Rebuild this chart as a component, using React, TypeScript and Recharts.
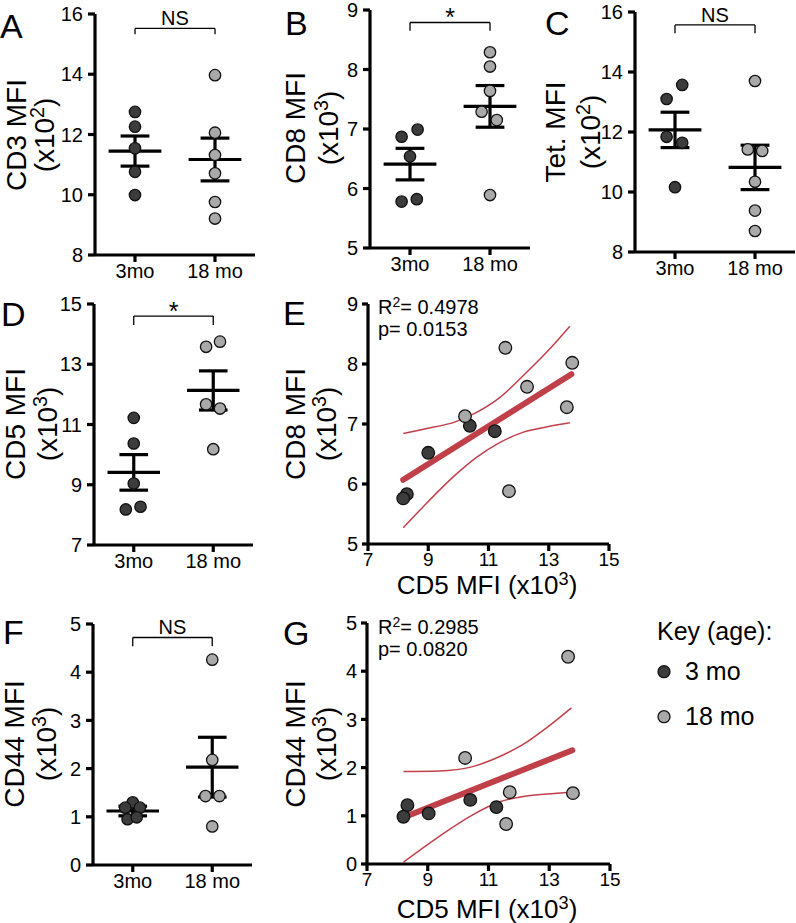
import React from 'react';
import { ScatterChart, ComposedChart, Scatter, Line, XAxis, YAxis, ReferenceLine } from 'recharts';

const FONT = '"Liberation Sans", Arial, Helvetica, sans-serif';
const DARK = '#3c3c3c';
const LIGHT = '#a9a9a9';
const RED = '#c0404a';

// group axis: 3mo at 1, 18 mo at 3
const groups = ['3mo', '18 mo'];
const groupPos = [1, 3];

// A - CD3 MFI (x10^2)
const cd3Young = [12.75, 12.26, 11.54, 10.76, 9.99];
const cd3YoungX = [1, 1, 1, 1, 1];
const cd3Old = [13.97, 12.06, 11.32, 10.71, 9.76, 9.21];
const cd3OldX = [3, 3, 3, 3, 3, 3];
const cd3Mean = [11.45, 11.17];
const cd3Sem = [0.5, 0.71];

// B - CD8 MFI (x10^3)
const cd8Young = [6.87, 6.99, 6.54, 5.78, 5.82];
const cd8YoungX = [0.79, 1.19, 1.0, 0.79, 1.17];
const cd8Old = [8.29, 8.05, 7.64, 7.29, 7.15, 5.89];
const cd8OldX = [3, 3, 3, 2.79, 3.17, 3];
const cd8Mean = [6.41, 7.38];
const cd8Sem = [0.265, 0.35];

// C - Tet. MFI (x10^2)
const tetYoung = [13.57, 13.1, 11.84, 11.64, 10.16];
const tetYoungX = [1.18, 0.79, 0.79, 1.18, 1.0];
const tetOld = [13.7, 11.42, 11.37, 10.34, 9.38, 8.7];
const tetOldX = [3, 2.82, 3.18, 3, 3, 3];
const tetMean = [12.07, 10.82];
const tetSem = [0.59, 0.74];

// D - CD5 MFI (x10^3)
const cd5Young = [11.22, 10.37, 9.04, 8.18, 8.27];
const cd5YoungX = [1, 1, 1, 0.8, 1.17];
const cd5Old = [13.58, 13.75, 11.67, 11.53, 10.18];
const cd5OldX = [2.82, 3.17, 2.82, 3.17, 3];
const cd5Mean = [9.41, 12.13];
const cd5Sem = [0.59, 0.65];

// F - CD44 MFI (x10^3)
const cd44Young = [1.3, 1.19, 1.19, 0.95, 0.99];
const cd44YoungX = [1.0, 0.81, 1.18, 0.87, 1.1];
const cd44Old = [4.26, 2.18, 1.43, 1.43, 0.8];
const cd44OldX = [3, 3, 2.83, 3.18, 3];
const cd44Mean = [1.12, 2.03];
const cd44Sem = [0.1, 0.62];

// E - CD5 vs CD8 correlation
const eCd5Young = [10.38, 11.21, 9.0, 8.29, 8.17];
const eCd8Young = [6.97, 6.88, 6.52, 5.83, 5.76];
const eCd5Old = [11.56, 13.78, 12.28, 13.6, 10.22, 11.68];
const eCd8Old = [8.27, 8.02, 7.62, 7.28, 7.13, 5.88];
const eFitX = [8.17, 13.75];
const eFitY = [6.07, 7.83];
const eBandX = [8.17, 8.81, 9.92, 10.59, 11.37, 12.14, 12.92, 13.7];
const eBandUpper = [6.84, 6.91, 7.04, 7.19, 7.44, 7.8, 8.19, 8.63];
const eBandLower = [5.27, 5.61, 6.16, 6.44, 6.69, 6.86, 6.95, 7.02];

// G - CD5 vs CD44 correlation
const gCd5Young = [8.33, 8.2, 9.03, 10.4, 11.26];
const gCd44Young = [1.22, 0.98, 1.05, 1.33, 1.18];
const gCd5Old = [13.62, 10.23, 11.7, 13.78, 11.58];
const gCd44Old = [4.3, 2.2, 1.49, 1.47, 0.83];
const gFitX = [8.26, 13.76];
const gFitY = [0.98, 2.36];
const gBandX = [8.2, 9.37, 10.48, 11.37, 12.14, 12.92, 13.73];
const gBandUpper = [1.92, 1.93, 2.02, 2.23, 2.48, 2.83, 3.24];
const gBandLower = [0.04, 0.57, 1.02, 1.29, 1.4, 1.45, 1.49];

const cd5Ticks = [7, 9, 11, 13, 15];

const toPts = (xs: number[], ys: number[]) => ys.map((y, i) => ({ x: xs[i], y }));

const dot = (fill: string, r: number) => (p: any) => (
  <circle cx={p.cx} cy={p.cy} r={r} fill={fill} stroke="#111" strokeWidth={1.3} />
);

const axisStyle = { stroke: '#000', strokeWidth: 3.2 };
const blk = { stroke: '#000', strokeWidth: 3.2 };
const thin = { stroke: '#000', strokeWidth: 1.3 };

type GroupProps = {
  box: number[];
  domain: number[];
  ticks: number[];
  young: number[];
  youngX: number[];
  old: number[];
  oldX: number[];
  mean: number[];
  sem: number[];
  bracket: number[];
  sig: string;
};

function GroupPanel({ box, domain, ticks, young, youngX, old, oldX, mean, sem, bracket, sig }: GroupProps) {
  const [x0, y0, x1, y1] = box;
  const padL = 70, padT = 40, padR = 8, padB = 40;
  const star = sig === '*';
  return (
    <div style={{ position: 'absolute', left: x0 - padL, top: y0 - padT }}>
      <ScatterChart width={x1 - x0 + padL + padR} height={y1 - y0 + padT + padB}
        margin={{ top: padT, right: padR, bottom: 0, left: 0 }}>
        <XAxis type="number" dataKey="x" domain={[0, 4]} ticks={groupPos} interval={0}
          tickFormatter={(v: number) => groups[groupPos.indexOf(v)]} height={padB}
          tickSize={7} tickMargin={2} axisLine={axisStyle} tickLine={axisStyle}
          fontSize={20} fontFamily={FONT}
          tick={{ fill: '#000', fontSize: 20, fontFamily: FONT }} />
        <YAxis type="number" dataKey="y" domain={domain} ticks={ticks} interval={0} width={padL}
          tickSize={7} tickMargin={5} axisLine={axisStyle} tickLine={axisStyle}
          fontSize={20} fontFamily={FONT}
          tick={{ fill: '#000', fontSize: 20, fontFamily: FONT }} />
        <Scatter data={toPts(youngX, young)} shape={dot(DARK, 5.7)} isAnimationActive={false} />
        <Scatter data={toPts(oldX, old)} shape={dot(LIGHT, 5.7)} isAnimationActive={false} />
        {groupPos.map((gx, i) => [
          <ReferenceLine key={'m' + i} segment={[{ x: gx - 0.66, y: mean[i] }, { x: gx + 0.66, y: mean[i] }]} {...blk} ifOverflow="visible" />,
          <ReferenceLine key={'v' + i} segment={[{ x: gx, y: mean[i] - sem[i] }, { x: gx, y: mean[i] + sem[i] }]} {...blk} ifOverflow="visible" />,
          <ReferenceLine key={'t' + i} segment={[{ x: gx - 0.36, y: mean[i] + sem[i] }, { x: gx + 0.36, y: mean[i] + sem[i] }]} {...blk} ifOverflow="visible" />,
          <ReferenceLine key={'b' + i} segment={[{ x: gx - 0.36, y: mean[i] - sem[i] }, { x: gx + 0.36, y: mean[i] - sem[i] }]} {...blk} ifOverflow="visible" />,
        ])}
        <ReferenceLine segment={[{ x: 1, y: bracket[1] }, { x: 1, y: bracket[0] }]} {...thin} ifOverflow="visible" />
        <ReferenceLine segment={[{ x: 3, y: bracket[1] }, { x: 3, y: bracket[0] }]} {...thin} ifOverflow="visible" />
        <ReferenceLine segment={[{ x: 1, y: bracket[0] }, { x: 3, y: bracket[0] }]} {...thin} ifOverflow="visible"
          label={{ value: sig, position: 'top', offset: star ? -4 : 3, fill: '#000', fontSize: star ? 25 : 20, fontFamily: FONT }} />
      </ScatterChart>
    </div>
  );
}

type CorrProps = {
  box: number[];
  yDomain: number[];
  yTicks: number[];
  youngX: number[];
  youngY: number[];
  oldX: number[];
  oldY: number[];
  fitX: number[];
  fitY: number[];
  bandX: number[];
  upper: number[];
  lower: number[];
};

function CorrPanel({ box, yDomain, yTicks, youngX, youngY, oldX, oldY, fitX, fitY, bandX, upper, lower }: CorrProps) {
  const [x0, y0, x1, y1] = box;
  const padL = 50, padT = 10, padR = 10, padB = 36;
  return (
    <div style={{ position: 'absolute', left: x0 - padL, top: y0 - padT }}>
      <ComposedChart width={x1 - x0 + padL + padR} height={y1 - y0 + padT + padB}
        margin={{ top: padT, right: padR, bottom: 0, left: 0 }}>
        <XAxis type="number" dataKey="x" domain={[7, 15]} ticks={cd5Ticks} interval={0} height={padB}
          tickSize={7} tickMargin={2} axisLine={axisStyle} tickLine={axisStyle}
          fontSize={19} fontFamily={FONT}
          tick={{ fill: '#000', fontSize: 19, fontFamily: FONT }} />
        <YAxis type="number" dataKey="y" domain={yDomain} ticks={yTicks} interval={0} width={padL}
          tickSize={6} tickMargin={4} axisLine={axisStyle} tickLine={axisStyle}
          fontSize={20} fontFamily={FONT}
          tick={{ fill: '#000', fontSize: 20, fontFamily: FONT }} />
        <Line data={toPts(bandX, upper)} dataKey="y" type="monotone" stroke={RED} strokeWidth={1.5} dot={false} isAnimationActive={false} />
        <Line data={toPts(bandX, lower)} dataKey="y" type="monotone" stroke={RED} strokeWidth={1.5} dot={false} isAnimationActive={false} />
        <Line data={toPts(fitX, fitY)} dataKey="y" type="linear" stroke={RED} strokeWidth={6} strokeLinecap="round" dot={false} isAnimationActive={false} />
        <Scatter data={toPts(youngX, youngY)} dataKey="y" shape={dot(DARK, 6.3)} isAnimationActive={false} />
        <Scatter data={toPts(oldX, oldY)} dataKey="y" shape={dot(LIGHT, 6.3)} isAnimationActive={false} />
      </ComposedChart>
    </div>
  );
}

function Letter({ x, y, t }: { x: number; y: number; t: string }) {
  return <div style={{ position: 'absolute', left: x, top: y - 4.4, fontSize: 34, lineHeight: '34px' }}>{t}</div>;
}

function VText({ x, y, children }: { x: number; y: number; children: React.ReactNode }) {
  return (
    <div style={{ position: 'absolute', left: x, top: y, transform: 'translate(-50%,-50%) rotate(-90deg)', fontSize: 28, lineHeight: '26px', whiteSpace: 'nowrap' }}>
      {children}
    </div>
  );
}

const sup = (s: string) => <sup style={{ fontSize: '0.7em', verticalAlign: '0.5em', lineHeight: 0 }}>{s}</sup>;

function YLabel({ x1, x2, y, name, exp }: { x1: number; x2: number; y: number; name: string; exp: string }) {
  return (
    <>
      <VText x={x1} y={y}>{name}</VText>
      <VText x={x2} y={y}>(x10{sup(exp)})</VText>
    </>
  );
}

function Stats({ x, y, r2, p }: { x: number; y: number; r2: string; p: string }) {
  return (
    <div style={{ position: 'absolute', left: x, top: y, fontSize: 20, lineHeight: '22px', whiteSpace: 'nowrap' }}>
      <div>R{sup('2')}= {r2}</div>
      <div>p= {p}</div>
    </div>
  );
}

function XLabel({ x, y }: { x: number; y: number }) {
  return (
    <div style={{ position: 'absolute', left: x, top: y, transform: 'translate(-50%,-50%)', fontSize: 26, lineHeight: '24px', whiteSpace: 'nowrap' }}>
      CD5 MFI (x10{sup('3')})
    </div>
  );
}

export default function App() {
  return (
    <div style={{ position: 'absolute', left: 0, top: 0, width: 796, height: 923, overflow: 'hidden', background: '#fff', fontFamily: FONT, color: '#000' }}>
      <GroupPanel box={[95, 14, 255, 255]} domain={[8, 16]} ticks={[8, 10, 12, 14, 16]}
        young={cd3Young} youngX={cd3YoungX} old={cd3Old} oldX={cd3OldX} mean={cd3Mean} sem={cd3Sem}
        bracket={[15.52, 15.33]} sig="NS" />
      <GroupPanel box={[370, 10, 530, 248]} domain={[5, 9]} ticks={[5, 6, 7, 8, 9]}
        young={cd8Young} youngX={cd8YoungX} old={cd8Old} oldX={cd8OldX} mean={cd8Mean} sem={cd8Sem}
        bracket={[8.79, 8.65]} sig="*" />
      <GroupPanel box={[635, 12, 795, 252]} domain={[8, 16]} ticks={[8, 10, 12, 14, 16]}
        young={tetYoung} youngX={tetYoungX} old={tetOld} oldX={tetOldX} mean={tetMean} sem={tetSem}
        bracket={[15.57, 15.29]} sig="NS" />
      <GroupPanel box={[94, 304, 253, 545]} domain={[7, 15]} ticks={[7, 9, 11, 13, 15]}
        young={cd5Young} youngX={cd5YoungX} old={cd5Old} oldX={cd5OldX} mean={cd5Mean} sem={cd5Sem}
        bracket={[14.6, 14.3]} sig="*" />
      <GroupPanel box={[93, 624, 252, 865]} domain={[0, 5]} ticks={[0, 1, 2, 3, 4, 5]}
        young={cd44Young} youngX={cd44YoungX} old={cd44Old} oldX={cd44OldX} mean={cd44Mean} sem={cd44Sem}
        bracket={[4.72, 4.54]} sig="NS" />

      <CorrPanel box={[368, 304, 609, 544]} yDomain={[5, 9]} yTicks={[5, 6, 7, 8, 9]}
        youngX={eCd5Young} youngY={eCd8Young} oldX={eCd5Old} oldY={eCd8Old}
        fitX={eFitX} fitY={eFitY} bandX={eBandX} upper={eBandUpper} lower={eBandLower} />
      <CorrPanel box={[367, 623, 610, 864]} yDomain={[0, 5]} yTicks={[0, 1, 2, 3, 4, 5]}
        youngX={gCd5Young} youngY={gCd44Young} oldX={gCd5Old} oldY={gCd44Old}
        fitX={gFitX} fitY={gFitY} bandX={gBandX} upper={gBandUpper} lower={gBandLower} />

      <Letter x={0} y={13} t="A" />
      <Letter x={285} y={10} t="B" />
      <Letter x={545} y={10} t="C" />
      <Letter x={1} y={301} t="D" />
      <Letter x={283} y={300} t="E" />
      <Letter x={3} y={619} t="F" />
      <Letter x={283} y={620} t="G" />

      <YLabel x1={17} x2={45} y={135} name="CD3 MFI" exp="2" />
      <YLabel x1={296} x2={329} y={128} name="CD8 MFI" exp="3" />
      <YLabel x1={556} x2={591} y={132} name="Tet. MFI" exp="2" />
      <YLabel x1={16} x2={48} y={424} name="CD5 MFI" exp="3" />
      <YLabel x1={296} x2={327} y={424} name="CD8 MFI" exp="3" />
      <YLabel x1={15} x2={47} y={744} name="CD44 MFI" exp="3" />
      <YLabel x1={296} x2={327} y={744} name="CD44 MFI" exp="3" />

      <Stats x={378} y={296} r2="0.4978" p="0.0153" />
      <Stats x={378} y={616} r2="0.2985" p="0.0820" />
      <XLabel x={487} y={585} />
      <XLabel x={487} y={909} />

      <div style={{ position: 'absolute', left: 657, top: 619, fontSize: 25, lineHeight: '25px', whiteSpace: 'nowrap' }}>Key (age):</div>
      <svg style={{ position: 'absolute', left: 650, top: 660 }} width={30} height={70}>
        <circle cx={14} cy={11.7} r={6} fill={DARK} stroke="#111" strokeWidth={1.3} />
        <circle cx={14} cy={56.7} r={6} fill={LIGHT} stroke="#111" strokeWidth={1.3} />
      </svg>
      <div style={{ position: 'absolute', left: 685, top: 659, fontSize: 25, lineHeight: '25px', whiteSpace: 'nowrap' }}>3 mo</div>
      <div style={{ position: 'absolute', left: 685, top: 704, fontSize: 25, lineHeight: '25px', whiteSpace: 'nowrap' }}>18 mo</div>
    </div>
  );
}
